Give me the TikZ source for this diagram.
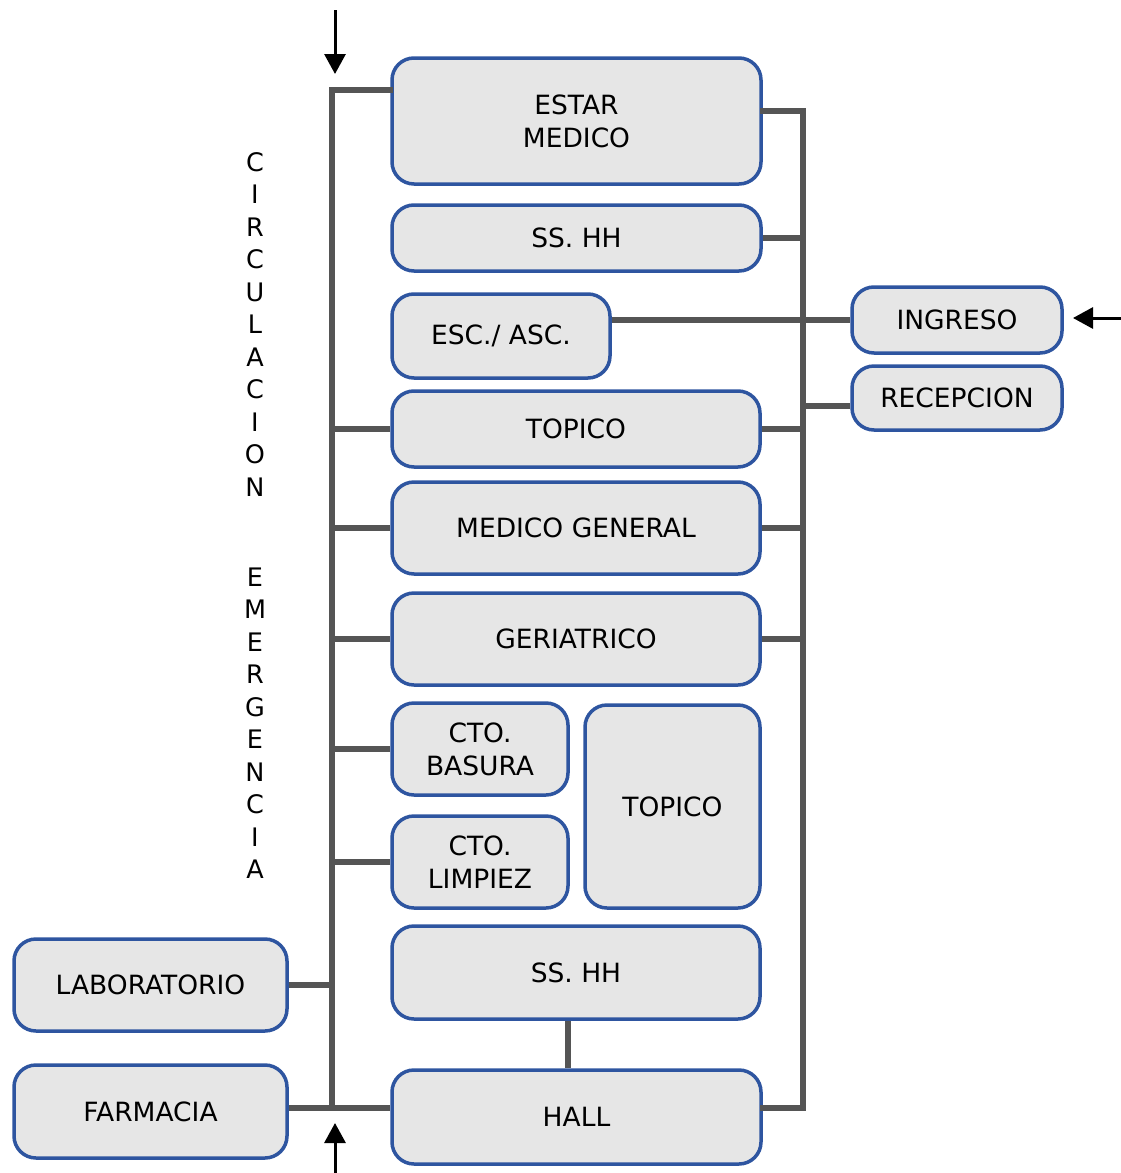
\documentclass[tikz,border=0pt]{standalone}
\usepackage{fontspec}
\setmainfont{DejaVu Sans}
\usetikzlibrary{arrows.meta}
\definecolor{boxfill}{HTML}{E6E6E6}
\definecolor{boxline}{HTML}{2E55A0}
\definecolor{conn}{HTML}{555555}
\begin{document}
\begin{tikzpicture}[x=1pt,y=-1pt,
  room/.style={draw=boxline,fill=boxfill,line width=3.5pt,rounded corners=22pt,inner sep=0pt,align=center,
    font=\fontsize{26.5}{33}\selectfont},
  link/.style={draw=conn,line width=6pt},
  flow/.style={draw=black,line width=3pt,-{Triangle[width=21pt,length=20pt]}},
  vlabel/.style={align=center,inner sep=0pt,font=\fontsize{25.5}{32.5}\selectfont}]
\useasboundingbox (0,0) rectangle (1121,1173);
% rooms
\node[room,minimum width=369pt,minimum height=126pt] (estar) at (576.5,121) {ESTAR\\MEDICO};
\node[room,minimum width=369pt,minimum height=66pt] (ss1) at (576.5,238) {SS. HH};
\node[room,minimum width=218pt,minimum height=84pt] (esc) at (501,336) {ESC./ ASC.};
\node[room,minimum width=368pt,minimum height=76pt] (topico) at (576,429) {TOPICO};
\node[room,minimum width=368pt,minimum height=92pt] (medgen) at (576,528) {MEDICO GENERAL};
\node[room,minimum width=368pt,minimum height=92pt] (geri) at (576,639) {GERIATRICO};
\node[room,minimum width=176pt,minimum height=92pt] (basura) at (480,749) {CTO.\\BASURA};
\node[room,minimum width=176pt,minimum height=92pt] (limpiez) at (480,862) {CTO.\\LIMPIEZ};
\node[room,minimum width=175pt,minimum height=203pt] (topico2) at (672.5,806.5) {TOPICO};
\node[room,minimum width=368pt,minimum height=93pt] (ss2) at (576,972.5) {SS. HH};
\node[room,minimum width=369pt,minimum height=94pt] (hall) at (576.5,1117) {HALL};
\node[room,minimum width=273pt,minimum height=92pt] (lab) at (150.5,985) {LABORATORIO};
\node[room,minimum width=273pt,minimum height=93pt] (farm) at (150.5,1111.5) {FARMACIA};
\node[room,minimum width=210pt,minimum height=66pt] (ingreso) at (957,320) {INGRESO};
\node[room,minimum width=210pt,minimum height=64pt] (recep) at (957,398) {RECEPCION};
% vertical labels
\node[vlabel] (circ) at (255,324.5) {C\\I\\R\\C\\U\\L\\A\\C\\I\\O\\N};
\node[vlabel] (emerg) at (255,723) {E\\M\\E\\R\\G\\E\\N\\C\\I\\A};
% spine coordinates
\coordinate (L1) at (332,90);
\coordinate (L2) at (332,1108);
\coordinate (R1) at (803,111);
\coordinate (R2) at (803,1108);
% left circulation
\draw[link,line cap=rect] (estar.west |- L1) -- (L1) -- (L2);
\draw[link] (topico.west) -- (topico.west -| L1);
\draw[link] (medgen.west) -- (medgen.west -| L1);
\draw[link] (geri.west) -- (geri.west -| L1);
\draw[link] (basura.west) -- (basura.west -| L1);
\draw[link] (limpiez.west) -- (limpiez.west -| L1);
\draw[link] (lab.east) -- (lab.east -| L1);
\draw[link] (farm.east |- L2) -- (hall.west |- L2);
% right circulation
\draw[link,line cap=rect] (estar.east |- R1) -- (R1) -- (R2) -- (hall.east |- R2);
\draw[link] (ss1.east) -- (ss1.east -| R1);
\draw[link] (topico.east) -- (topico.east -| R1);
\draw[link] (medgen.east) -- (medgen.east -| R1);
\draw[link] (geri.east) -- (geri.east -| R1);
\draw[link] ([yshift=-8pt]recep.west) -- ([yshift=-8pt]recep.west -| R1);
\draw[link] (esc.east |- ingreso.west) -- (ingreso.west);
\draw[link] ([xshift=-8pt]ss2.south) -- ([xshift=-8pt]ss2.south |- hall.north);
% access arrows
\coordinate (a1) at (335,10);
\coordinate (a2) at (335,1173);
\coordinate (a3) at (1121,318);
\draw[flow] (a1) -- (335,74);
\draw[flow] (a2) -- (335,1123);
\draw[flow] (a3) -- (1073,318);
\end{tikzpicture}
\end{document}
